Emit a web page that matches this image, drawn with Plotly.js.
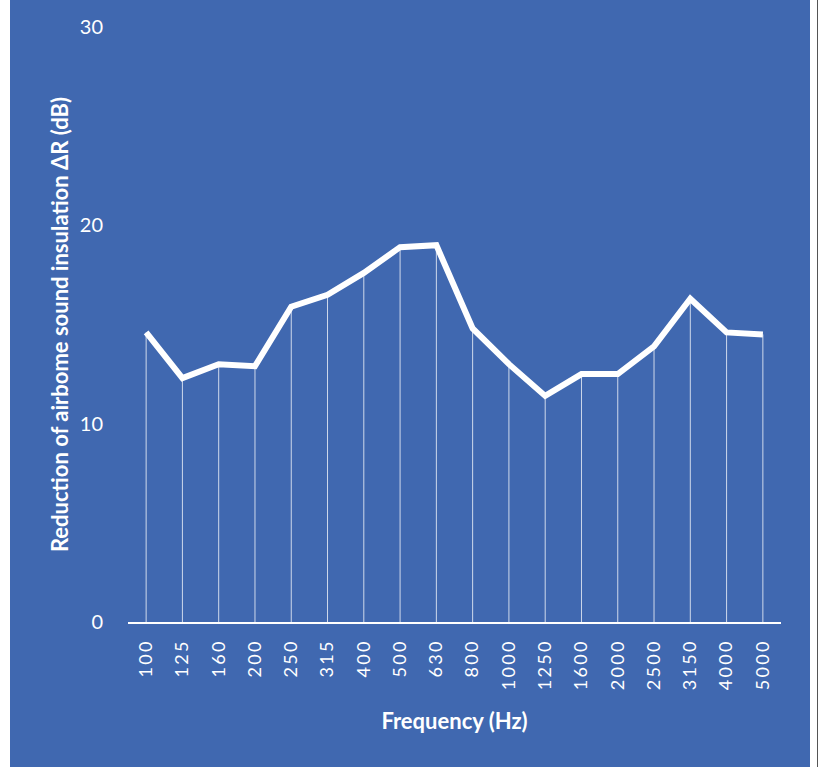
<!DOCTYPE html>
<html>
<head>
<meta charset="utf-8">
<script src="https://cdn.plot.ly/plotly-3.0.1.min.js"></script>
<style>
  html, body { margin: 0; padding: 0; background: #ffffff; width: 822px; height: 767px; overflow: hidden; }
  #frame { position: absolute; left: 817px; top: 0; width: 1px; height: 767px; background: #555; }
  #chart { position: absolute; left: 10px; top: 0; width: 800px; height: 767px; }
  .xtick text { letter-spacing: 2.3px; }
</style>
</head>
<body>
<div id="chart"></div>
<div id="frame"></div>
<script>
const frequencies = ["100","125","160","200","250","315","400","500","630","800","1000","1250","1600","2000","2500","3150","4000","5000"];
const deltaR = [14.6, 12.3, 13.0, 12.9, 15.9, 16.5, 17.6, 18.9, 19.0, 14.8, 13.0, 11.4, 12.5, 12.5, 13.9, 16.3, 14.6, 14.5];
const yTicks = [0, 10, 20, 30];

const bg = '#4068b0';
const white = '#ffffff';

const dropLines = {
  x: frequencies,
  y: deltaR,
  type: 'scatter',
  mode: 'markers',
  marker: { size: 1, color: 'rgba(0,0,0,0)' },
  error_y: {
    type: 'data',
    symmetric: false,
    array: deltaR.map(() => 0),
    arrayminus: deltaR,
    width: 0,
    thickness: 1,
    color: 'rgba(255,255,255,0.75)'
  },
  hoverinfo: 'skip',
  showlegend: false
};

const mainLine = {
  x: frequencies,
  y: deltaR,
  type: 'scatter',
  mode: 'lines',
  line: { color: white, width: 6, shape: 'linear' },
  showlegend: false
};

const layout = {
  width: 800,
  height: 767,
  margin: { l: 118, r: 29, t: 27, b: 145 },
  paper_bgcolor: bg,
  plot_bgcolor: bg,
  showlegend: false,
  xaxis: {
    type: 'category',
    range: [-0.5, frequencies.length - 0.5],
    tickangle: -90,
    showgrid: false,
    zeroline: false,
    showline: true,
    linecolor: white,
    linewidth: 2,
    ticks: '',
    ticklabelstandoff: 8,
    tickfont: { family: 'Lato, sans-serif', size: 18, color: white },
    title: { text: 'Frequency (Hz)', standoff: 24, font: { family: 'Lato, sans-serif', size: 22, color: white, weight: 'bold' } },
    automargin: false,
    fixedrange: true
  },
  yaxis: {
    range: [0, 30],
    tickvals: yTicks,
    showgrid: false,
    zeroline: false,
    showline: false,
    ticks: '',
    ticklabelstandoff: 24,
    tickfont: { family: 'Lato, sans-serif', size: 20, color: white },
    title: { text: 'Reduction of airbome sound insulation ΔR (dB)', standoff: 5, font: { family: 'Lato, sans-serif', size: 22, color: white, weight: 'bold' } },
    automargin: false,
    fixedrange: true
  }
};

Plotly.newPlot('chart', [dropLines, mainLine], layout, { displayModeBar: false, staticPlot: true });
</script>
</body>
</html>
